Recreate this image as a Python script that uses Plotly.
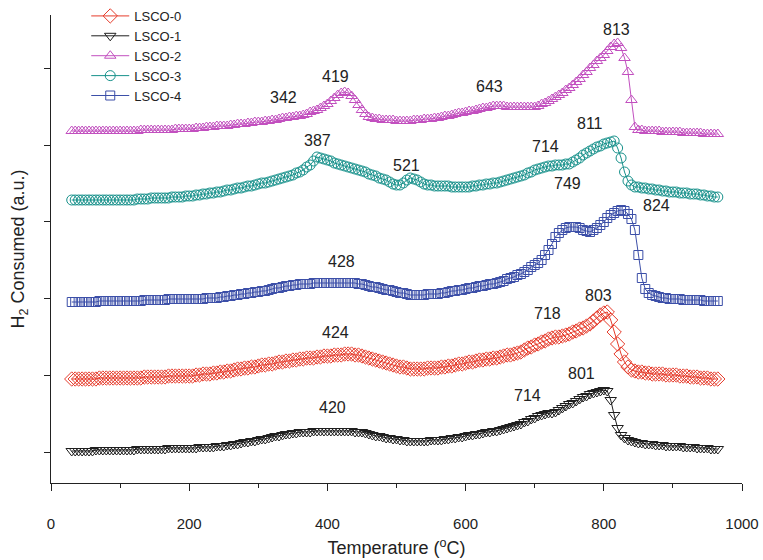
import plotly.graph_objects as go

# Temperature grid (°C), sampling every 5 °C
temperature = list(range(30, 970, 5))

# H2 consumption signals (a.u., stacked offsets as in the figure)
lsco0 = ([73]*8 + [74]*7 + [74]*6 + [75]*7 + [76]*7 +
         [76,77,77,78,78,78,79,79,80,80] +
         [81,81,82,83,83,84,84,85,85,86] +
         [87,87,88,88,89,90,90,91,91,92] +
         [92,93,93,94,94,94,95,95,96,96] +
         [96,97,97,97,98,98] + [98,97,97,96] +
         [95,94,93,92,91,90] + [89,88,87,86,85,85,84,83] +
         [83,83,83,83,84,84,84,84] + [85,85,86,86,87,88,88,89] +
         [90,90,91,92,92,93,93,94,94,95] + [96,97,97,98,99,100] +
         [102,104,105,107] + [108,110,111,113] + [114,115,115,116] +
         [117,118,120,121] + [123,124,126,128] + [131,134,137,139] +
         [140,132,120,108,98,90,85,82,81,80,80,79] +
         [79,78,78,78,78,77,77,77] +
         [77,76,76,76,75,75,75,74,74,74,73,73,73])

lsco1 = ([1]*7 + [2]*8 +
         [2,2,2,2,3,3,3,3,3,3,3,3,3,4,4,4,4,4,4,4] +
         [4,4,5,5,5,5,5,6,6,6] + [7,7,8,8,9,10,10,11,11,12] +
         [13,13,14,15,16,16,17,18,18,19] + [19,20,20,20,20,21,21,21,21,21] +
         [21,21,21,21,21,21,21,20,20,20] + [19,18,17,16,16,15] +
         [14,14,13,13,12,12,11,11] + [11,11,11,11,11,12,12,12] +
         [12,13,13,14,14,15,15,16] + [17,17,18,18,19,20,20,21,21,22] +
         [23,24,25,26,27,28] + [30,31,33,34] + [36,37,38,39,39,40,42,44] +
         [46,48,49,51] + [53,55,56,58] + [59,60,61,62] +
         [61,52,37,24,17,14] + [12,11,10,9] + [9,8,8,8,7,7,7,6,6,6] +
         [6,6,5,5,5,5,4,4,4,4,3,3,3])

lsco2 = ([321]*15 + [321]*5 + [322]*5 + [322]*5 + [323]*5 +
         [323,324,324,324,325,325,325,326,326,326] +
         [326,327,327,328,328,328,329,329,330,330] +
         [330,331,331,332,332,333,334,334] + [335,335,336,336] +
         [337,338,340,341] + [342,344,346,348] + [351,354,357] +
         [359,360,359,356,352,347,342,338,335] + [334,333,333,332] +
         [332,332,332,331,331,331] + [331,331,332,332,332,333,333,333] +
         [334,334,335,336,336,337,338,339,339,340] +
         [341,341,342,343,344,344,345,346] +
         [346,346,346,345,345,345,345,345,345,345,345,345] +
         [346,348,349,351] + [353,355,357,359] + [362,364,367,370] +
         [373,377,380,384] + [387,391,394,397] +
         [401,405,408,409,404,394,380,352,325,322] +
         [322,321,321,321,321,321,320,320,320,320] +
         [320,320,319,319,319,319,319,319,318,318,318,318,318])

lsco3 = ([252]*15 + [252]*4 + [253]*4 + [254]*2 + [254]*4 + [255]*4 + [256]*2 +
         [256,257,257,258,258,259,259,260,260,261] +
         [262,262,263,264,264,265,266,266,267,268] +
         [269,269,270,271,272,273,274,275] + [276,277,279,280] +
         [282,285,287] + [291,295,294,293,292] + [291,289,288,287] +
         [286,285,284,283,282,281] + [280,278,277,276,274,273] +
         [272,270,268,267] + [267,269,272,274,273,272,270,268,267] +
         [267,266,266,266,266,266,265,265,265,265,265] +
         [265,266,266,267,267,268,268,269,269,270] +
         [271,272,273,274,275,276] + [277,279,280,282] + [283,284,285,286] +
         [286,287,287,287,288,288] + [290,292,294,297,299,301] +
         [303,305,306,308] + [309,310,311,304,294,280,271,267,265] +
         [265,264,264,263,263,262,262,261,261,260,260] +
         [260,259,259,259,258,258,258,257,257,256,256,255,255])

lsco4 = ([150]*8 + [151]*7 + [151]*6 + [152]*7 + [153]*7 +
         [153]*4 + [154]*4 + [155]*2 +
         [156,156,157,157,158,158,159,159,160,160] +
         [161,161,162,163,164,164,165,166,166,167] +
         [167,168,168,168,168,169,169,169,169,169] + [169]*8 +
         [168,168,167,166] + [165,165,164,163] +
         [162,162,161,160,159,159,158,157] + [157]*4 + [158]*4 +
         [159,159,160,161,161,162,162,163] +
         [164,164,165,166,166,167,168,168,169,170] +
         [171,173,174,175,177,178] + [180,182,185,187] +
         [189,192,197,202,208,215,219,222,224,225] +
         [225,225,224,222,221,220,222,224,227,230] +
         [234,237,239,241,242,241,238,233,222,197] +
         [174,163,159,157,156,155,154,154,153,153] +
         [153,153,152,152,152,152,152,152,151,151,151,151,151])

series_names = ["LSCO-0", "LSCO-1", "LSCO-2", "LSCO-3", "LSCO-4"]
series_values = [lsco0, lsco1, lsco2, lsco3, lsco4]
series_colors = ["#e63b2b", "#1e1e1e", "#c24fbf", "#17918b", "#3c4fa8"]
series_symbols = ["diamond-open", "triangle-down-open", "triangle-up-open",
                  "circle-open", "square-open"]
series_sizes = [11, 10, 10, 10, 9]

# Peak labels: (temperature, signal, text)
peak_T = [337, 411, 634, 818, 386, 515, 715, 780, 748, 876, 421, 412, 719, 792, 407, 690, 768]
peak_v = [355, 376, 366, 423, 312, 287, 306, 329, 269, 247, 191, 120, 139, 157, 45, 57, 79]
peak_text = ["342", "419", "643", "813", "387", "521", "714", "811", "749", "824",
             "428", "424", "718", "803", "420", "714", "801"]

fig = go.Figure()
for name, vals, col, sym, sz in zip(series_names, series_values, series_colors,
                                    series_symbols, series_sizes):
    assert len(vals) == len(temperature), (name, len(vals))
    fig.add_trace(go.Scatter(
        x=temperature, y=vals, name=name, mode="lines+markers",
        line=dict(color=col, width=1),
        marker=dict(symbol=sym, size=sz, color=col, line=dict(color=col, width=1)),
    ))

for t, v, s in zip(peak_T, peak_v, peak_text):
    fig.add_annotation(x=t, y=v, text=s, showarrow=False,
                       font=dict(size=16, color="#222", family="Liberation Sans, Arial"))

fig.update_layout(
    width=763, height=560,
    margin=dict(l=51, r=21, t=15, b=77, autoexpand=False),
    paper_bgcolor="white", plot_bgcolor="white",
    font=dict(family="Liberation Sans, Arial", color="#222"),
    showlegend=True,
    legend=dict(x=0.051, y=1.03, xanchor="left", yanchor="top",
                bgcolor="rgba(0,0,0,0)", font=dict(size=13, color="#222"),
                itemwidth=38, tracegroupgap=0),
    xaxis=dict(range=[0, 1000], dtick=200, tick0=0, ticks="outside", ticklen=7,
               tickcolor="#222", showline=True, linecolor="#222", linewidth=1,
               showgrid=False, zeroline=False, tickfont=dict(size=15),
               ticklabelstandoff=20, automargin=False,
               minor=dict(dtick=100, ticks="outside", ticklen=4, tickcolor="#222"),
               title=dict(text="Temperature (<sup>o</sup>C)", font=dict(size=18), standoff=10)),
    yaxis=dict(range=[-31, 437], dtick=76.75, tick0=0, ticks="outside", ticklen=6,
               tickcolor="#222", showline=True, linecolor="#222", linewidth=1,
               showticklabels=False, showgrid=False, zeroline=False, automargin=False,
               title=dict(text="H<sub>2</sub> Consumed (a.u.)", font=dict(size=18), standoff=14)),
)

fig.write_html("out.html")
